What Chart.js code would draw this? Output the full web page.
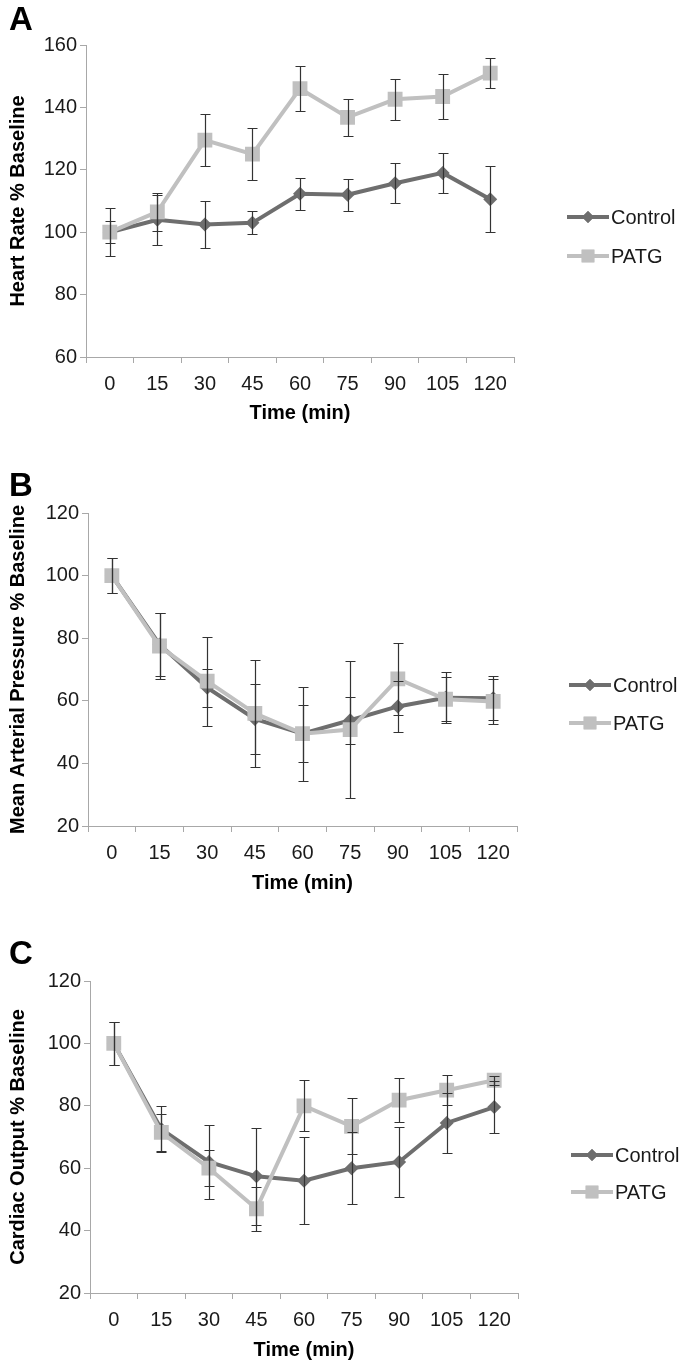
<!DOCTYPE html>
<html><head><meta charset="utf-8">
<script src="https://cdn.jsdelivr.net/npm/chart.js@4/dist/chart.umd.min.js"></script>
<style>
html,body{margin:0;padding:0;background:#fff;}
body{width:685px;height:1366px;position:relative;overflow:hidden;font-family:"Liberation Sans",Arial,sans-serif;}
.panel{position:absolute;left:0;width:685px;}
.lbl{position:absolute;left:9px;font-weight:bold;font-size:33px;line-height:33px;color:#000;}
canvas{display:block;}
</style></head><body>
<div class="panel" style="top:0;height:440px"><canvas id="cA" width="685" height="440"></canvas></div>
<div class="panel" style="top:450px;height:450px"><canvas id="cB" width="685" height="450"></canvas></div>
<div class="panel" style="top:900px;height:466px"><canvas id="cC" width="685" height="466"></canvas></div>
<div class="lbl" style="top:2px">A</div>
<div class="lbl" style="top:468px">B</div>
<div class="lbl" style="top:936px">C</div>
<script>
// ---- data ----
const timeLabels = ['0','15','30','45','60','75','90','105','120'];
const seriesNames = ['Control','PATG'];

const hrControl    = [100, 104, 102.5, 103, 112.3, 112, 115.7, 119, 110.6];
const hrControlErr = [7.6, 8, 7.6, 3.7, 5.2, 5.2, 6.5, 6.3, 10.6];
const hrPATG       = [100, 106.5, 129.5, 125, 146, 136.8, 142.6, 143.5, 151];
const hrPATGErr    = [3.6, 6, 8.4, 8.4, 7.2, 6, 6.5, 7.1, 4.7];

const mapControl    = [100, 78, 64.2, 54.2, 49.5, 53.8, 58.2, 61, 60.8];
const mapControlErr = [5.5, 10, 6.1, 11.3, 9.2, 7.5, 8.2, 8.2, 7];
const mapPATG       = [100, 77.5, 66.3, 56, 49.5, 50.8, 67, 60.5, 59.8];
const mapPATGErr    = [5.5, 10.5, 14.2, 17, 15, 22, 11.5, 7, 7.3];

const coControl    = [100, 72.5, 62, 57.4, 56, 60, 62, 74.5, 79.6];
const coControlErr = [7, 7.3, 12, 15.5, 14, 11.5, 11.3, 9.7, 8.3];
const coPATG       = [100, 71.5, 60, 47, 80, 73.4, 81.8, 85, 88.2];
const coPATGErr    = [7, 6, 5.8, 7, 8.2, 9, 7, 4.8, 1.5];

const yTitles = ['Heart Rate % Baseline','Mean Arterial Pressure % Baseline','Cardiac Output % Baseline'];
const xTitle = 'Time (min)';

// ---- styles ----
const C_DARK = '#6e6e6e';
const C_LIGHT = '#c0c0c0';
const AXIS = '#a8a8a8';
const FONT = '"Liberation Sans", Arial, sans-serif';

const errorBars = {
  id: 'errorBars',
  afterDatasetsDraw(chart, args, opts) {
    const ctx = chart.ctx, ys = chart.scales.y;
    ctx.save();
    ctx.strokeStyle = opts.color; ctx.lineWidth = opts.width;
    chart.data.datasets.forEach((ds, i) => {
      const meta = chart.getDatasetMeta(i);
      meta.data.forEach((pt, j) => {
        const v = ds.data[j], e = ds.err[j];
        const yt = Math.round(ys.getPixelForValue(v + e)) + 0.5;
        const yb = Math.round(ys.getPixelForValue(v - e)) + 0.5;
        const x = Math.round(pt.x) + 0.5;
        ctx.beginPath();
        ctx.moveTo(x, yt); ctx.lineTo(x, yb);
        ctx.moveTo(x - opts.cap, yt); ctx.lineTo(x + opts.cap, yt);
        ctx.moveTo(x - opts.cap, yb); ctx.lineTo(x + opts.cap, yb);
        ctx.stroke();
      });
    });
    ctx.restore();
  }
};

const sideLegend = {
  id: 'sideLegend',
  afterDraw(chart, args, opts) {
    const ctx = chart.ctx;
    ctx.save();
    chart.data.datasets.forEach((ds, i) => {
      const y = opts.ys[i];
      ctx.strokeStyle = ds.borderColor; ctx.lineWidth = 4;
      ctx.beginPath(); ctx.moveTo(opts.x1, y); ctx.lineTo(opts.x2, y); ctx.stroke();
      ctx.fillStyle = ds.borderColor;
      Chart.helpers.drawPoint(ctx, {pointStyle: ds.pointStyle, radius: ds.legendRadius, rotation: 0, borderWidth: 0}, (opts.x1 + opts.x2) / 2, y);
      ctx.fill();
      ctx.fillStyle = '#1a1a1a';
      ctx.font = '20px ' + FONT;
      ctx.textBaseline = 'middle';
      ctx.textAlign = 'left';
      ctx.fillText(ds.label, opts.x2 + 2, y + 1);
    });
    ctx.restore();
  }
};

function makeChart(id, H, box, ymin, ymax, ctrl, ctrlErr, patg, patgErr, yTitle, legend) {
  new Chart(document.getElementById(id), {
    type: 'line',
    data: {
      labels: timeLabels,
      datasets: [
        { label: seriesNames[0], data: ctrl, err: ctrlErr, borderColor: C_DARK, backgroundColor: C_DARK,
          borderWidth: 4, pointStyle: 'rectRot', pointRadius: 7, legendRadius: 6, pointBorderWidth: 0,
          pointBackgroundColor: C_DARK, order: 1, tension: 0 },
        { label: seriesNames[1], data: patg, err: patgErr, borderColor: C_LIGHT, backgroundColor: C_LIGHT,
          borderWidth: 4, pointStyle: 'rect', pointRadius: 10.5, legendRadius: 9, pointBorderWidth: 0,
          pointBackgroundColor: C_LIGHT, order: 0, tension: 0 }
      ]
    },
    options: {
      responsive: false, animation: false, devicePixelRatio: 1,
      layout: { padding: { top: box.top, right: 685 - box.right, left: 0, bottom: H - box.xTitle - 12 } },
      plugins: {
        legend: { display: false }, tooltip: { enabled: false },
        errorBars: { color: '#333', width: 1.2, cap: 5 },
        sideLegend: legend
      },
      scales: {
        x: {
          type: 'category', offset: true,
          afterFit(s) { s.height = box.xTitle + 12 - box.bottom; },
          grid: { offset: true, drawOnChartArea: false, drawTicks: true, tickLength: 6, color: AXIS, lineWidth: 1 },
          border: { color: AXIS, width: 1 },
          ticks: { color: '#1a1a1a', font: { family: FONT, size: 20 }, padding: 9, maxRotation: 0 },
          title: { display: true, text: xTitle, color: '#000', font: { family: FONT, size: 20, weight: 'bold' }, padding: { top: 4, bottom: 0 } }
        },
        y: {
          min: ymin, max: ymax,
          afterFit(s) { s.width = box.left; },
          grid: { drawOnChartArea: false, drawTicks: true, tickLength: 6, color: AXIS, lineWidth: 1 },
          border: { color: AXIS, width: 1 },
          ticks: { stepSize: 20, color: '#1a1a1a', font: { family: FONT, size: 20 }, padding: 3 },
          title: { display: true, text: yTitle, color: '#000', font: { family: FONT, size: 20, weight: 'bold' }, padding: { top: 6, bottom: 0 } }
        }
      }
    },
    plugins: [errorBars, sideLegend]
  });
}

makeChart('cA', 440, {left: 86, right: 514, top: 45, bottom: 357, xTitle: 413}, 60, 160,
  hrControl, hrControlErr, hrPATG, hrPATGErr, yTitles[0],
  {x1: 567, x2: 609, ys: [217, 256]});
makeChart('cB', 450, {left: 88, right: 517, top: 63, bottom: 376, xTitle: 433}, 20, 120,
  mapControl, mapControlErr, mapPATG, mapPATGErr, yTitles[1],
  {x1: 569, x2: 611, ys: [235, 273]});
makeChart('cC', 466, {left: 90, right: 518, top: 81, bottom: 393, xTitle: 450}, 20, 120,
  coControl, coControlErr, coPATG, coPATGErr, yTitles[2],
  {x1: 571, x2: 613, ys: [255, 292]});
</script>
</body></html>
